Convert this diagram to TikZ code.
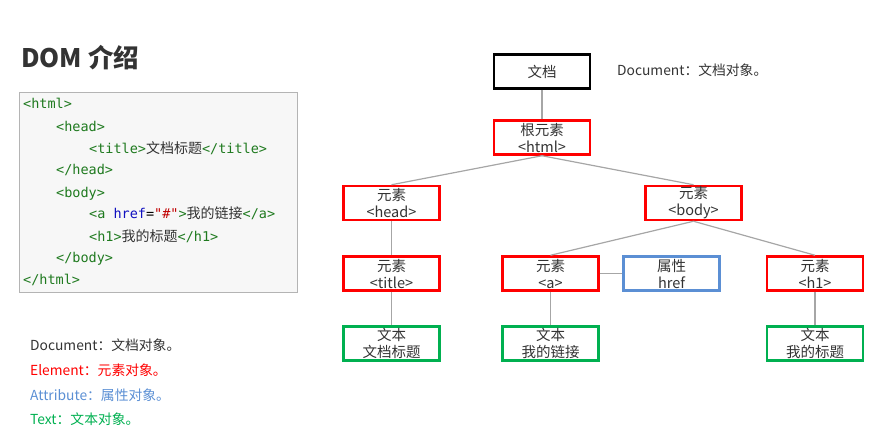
\documentclass[tikz,border=0pt]{standalone}
\usepackage{fontspec}
\setmainfont{Noto Sans CJK SC}
\setmonofont{DejaVu Sans Mono}
\newfontfamily\cjk{Noto Sans CJK SC}
\definecolor{txt}{HTML}{333333}
\definecolor{elred}{HTML}{FF0000}
\definecolor{attrblue}{HTML}{5B8FD4}
\definecolor{txtgreen}{HTML}{00B050}
\definecolor{linegray}{HTML}{A6A6A6}
\definecolor{codebg}{HTML}{F7F7F7}
\definecolor{codeborder}{HTML}{B4B4B4}
\definecolor{tagc}{HTML}{1F7A1F}
\definecolor{attrc}{HTML}{1010C0}
\definecolor{strc}{HTML}{C00000}
\newcommand\tg[1]{\textcolor{tagc}{#1}}
\newcommand\zh[1]{{\cjk\fontsize{14}{14}\selectfont\color{txt}#1}}
\tikzset{
  box/.style={draw, line width=2.5pt, minimum width=96pt, minimum height=34pt, inner sep=0pt,
    align=center, text=txt, font=\fontsize{14.5}{17}\selectfont},
  docbox/.style={box, draw=black},
  elbox/.style={box, draw=elred},
  atbox/.style={box, draw=attrblue},
  txbox/.style={box, draw=txtgreen},
  conn/.style={draw=linegray, line width=1.2pt},
  codeline/.style={anchor=base west, inner sep=0pt, font=\ttfamily\fontsize{13.5}{14}\selectfont},
  legend/.style={anchor=base west, inner sep=0pt, font=\fontsize{13.8}{14}\selectfont},
}
\begin{document}
\begin{tikzpicture}[x=1pt,y=-1pt]
\useasboundingbox (0,0) rectangle (882,444);
% title
\node[anchor=base west, inner sep=0pt, text=txt, font=\bfseries\fontsize{25.5}{26}\selectfont] (title) at (21,67.5) {DOM 介绍};
% code box
\draw[fill=codebg, draw=codeborder, line width=1pt] (19,92) rectangle (297,292);
\node[codeline] (c1) at (23,108) {\tg{<html>}};
\node[codeline] (c2) at (56,131) {\tg{<head>}};
\node[codeline] (c3) at (89,153) {\tg{<title>}\zh{文档标题}\tg{</title>}};
\node[codeline] (c4) at (56,174) {\tg{</head>}};
\node[codeline] (c5) at (56,197) {\tg{<body>}};
\node[codeline] (c6) at (89,218) {\tg{<a} \textcolor{attrc}{href}=\textcolor{strc}{"\#"}\tg{>}\zh{我的链接}\tg{</a>}};
\node[codeline] (c7) at (89,241) {\tg{<h1>}\zh{我的标题}\tg{</h1>}};
\node[codeline] (c8) at (56,262) {\tg{</body>}};
\node[codeline] (c9) at (23,284) {\tg{</html>}};
% legend
\node[legend, text=txt] (l1) at (30,350) {Document：文档对象。};
\node[legend, text=elred] (l2) at (30,375) {Element：元素对象。};
\node[legend, text=attrblue] (l3) at (30,400) {Attribute：属性对象。};
\node[legend, text=txtgreen] (l4) at (30,424) {Text：文本对象。};
% tree
\node[docbox] (doc) at (542,71.5) {文档};
\node[legend, text=txt] (docl) at (617,75) {Document：文档对象。};
\node[elbox] (root) at (542,137.5) {根元素\\<html>};
\node[elbox] (head) at (391.5,203) {元素\\<head>};
\node[elbox] (body) at (693.5,203) {元素\\<body>};
\node[elbox] (ttl) at (391.5,273.5) {元素\\<title>};
\node[elbox] (a) at (550.5,273.5) {元素\\<a>};
\node[atbox] (href) at (671.5,273.5) {属性\\href};
\node[elbox] (h1) at (815,273.5) {元素\\<h1>};
\node[txbox] (t1) at (391.5,343.5) {文本\\文档标题};
\node[txbox] (t2) at (550.5,343.5) {文本\\我的链接};
\node[txbox] (t3) at (815,343.5) {文本\\我的标题};
% connectors
\draw[conn] (doc.south) -- (root.north);
\draw[conn] (root.south) -- (head.north);
\draw[conn] (root.south) -- (body.north);
\draw[conn] (head.south) -- (ttl.north);
\draw[conn] (body.south) -- (a.north);
\draw[conn] (body.south) -- (h1.north);
\draw[conn] (a.east) -- (href.west);
\draw[conn] (ttl.south) -- (t1.north);
\draw[conn] (a.south) -- (t2.north);
\draw[conn] (h1.south) -- (t3.north);
\end{tikzpicture}
\end{document}
